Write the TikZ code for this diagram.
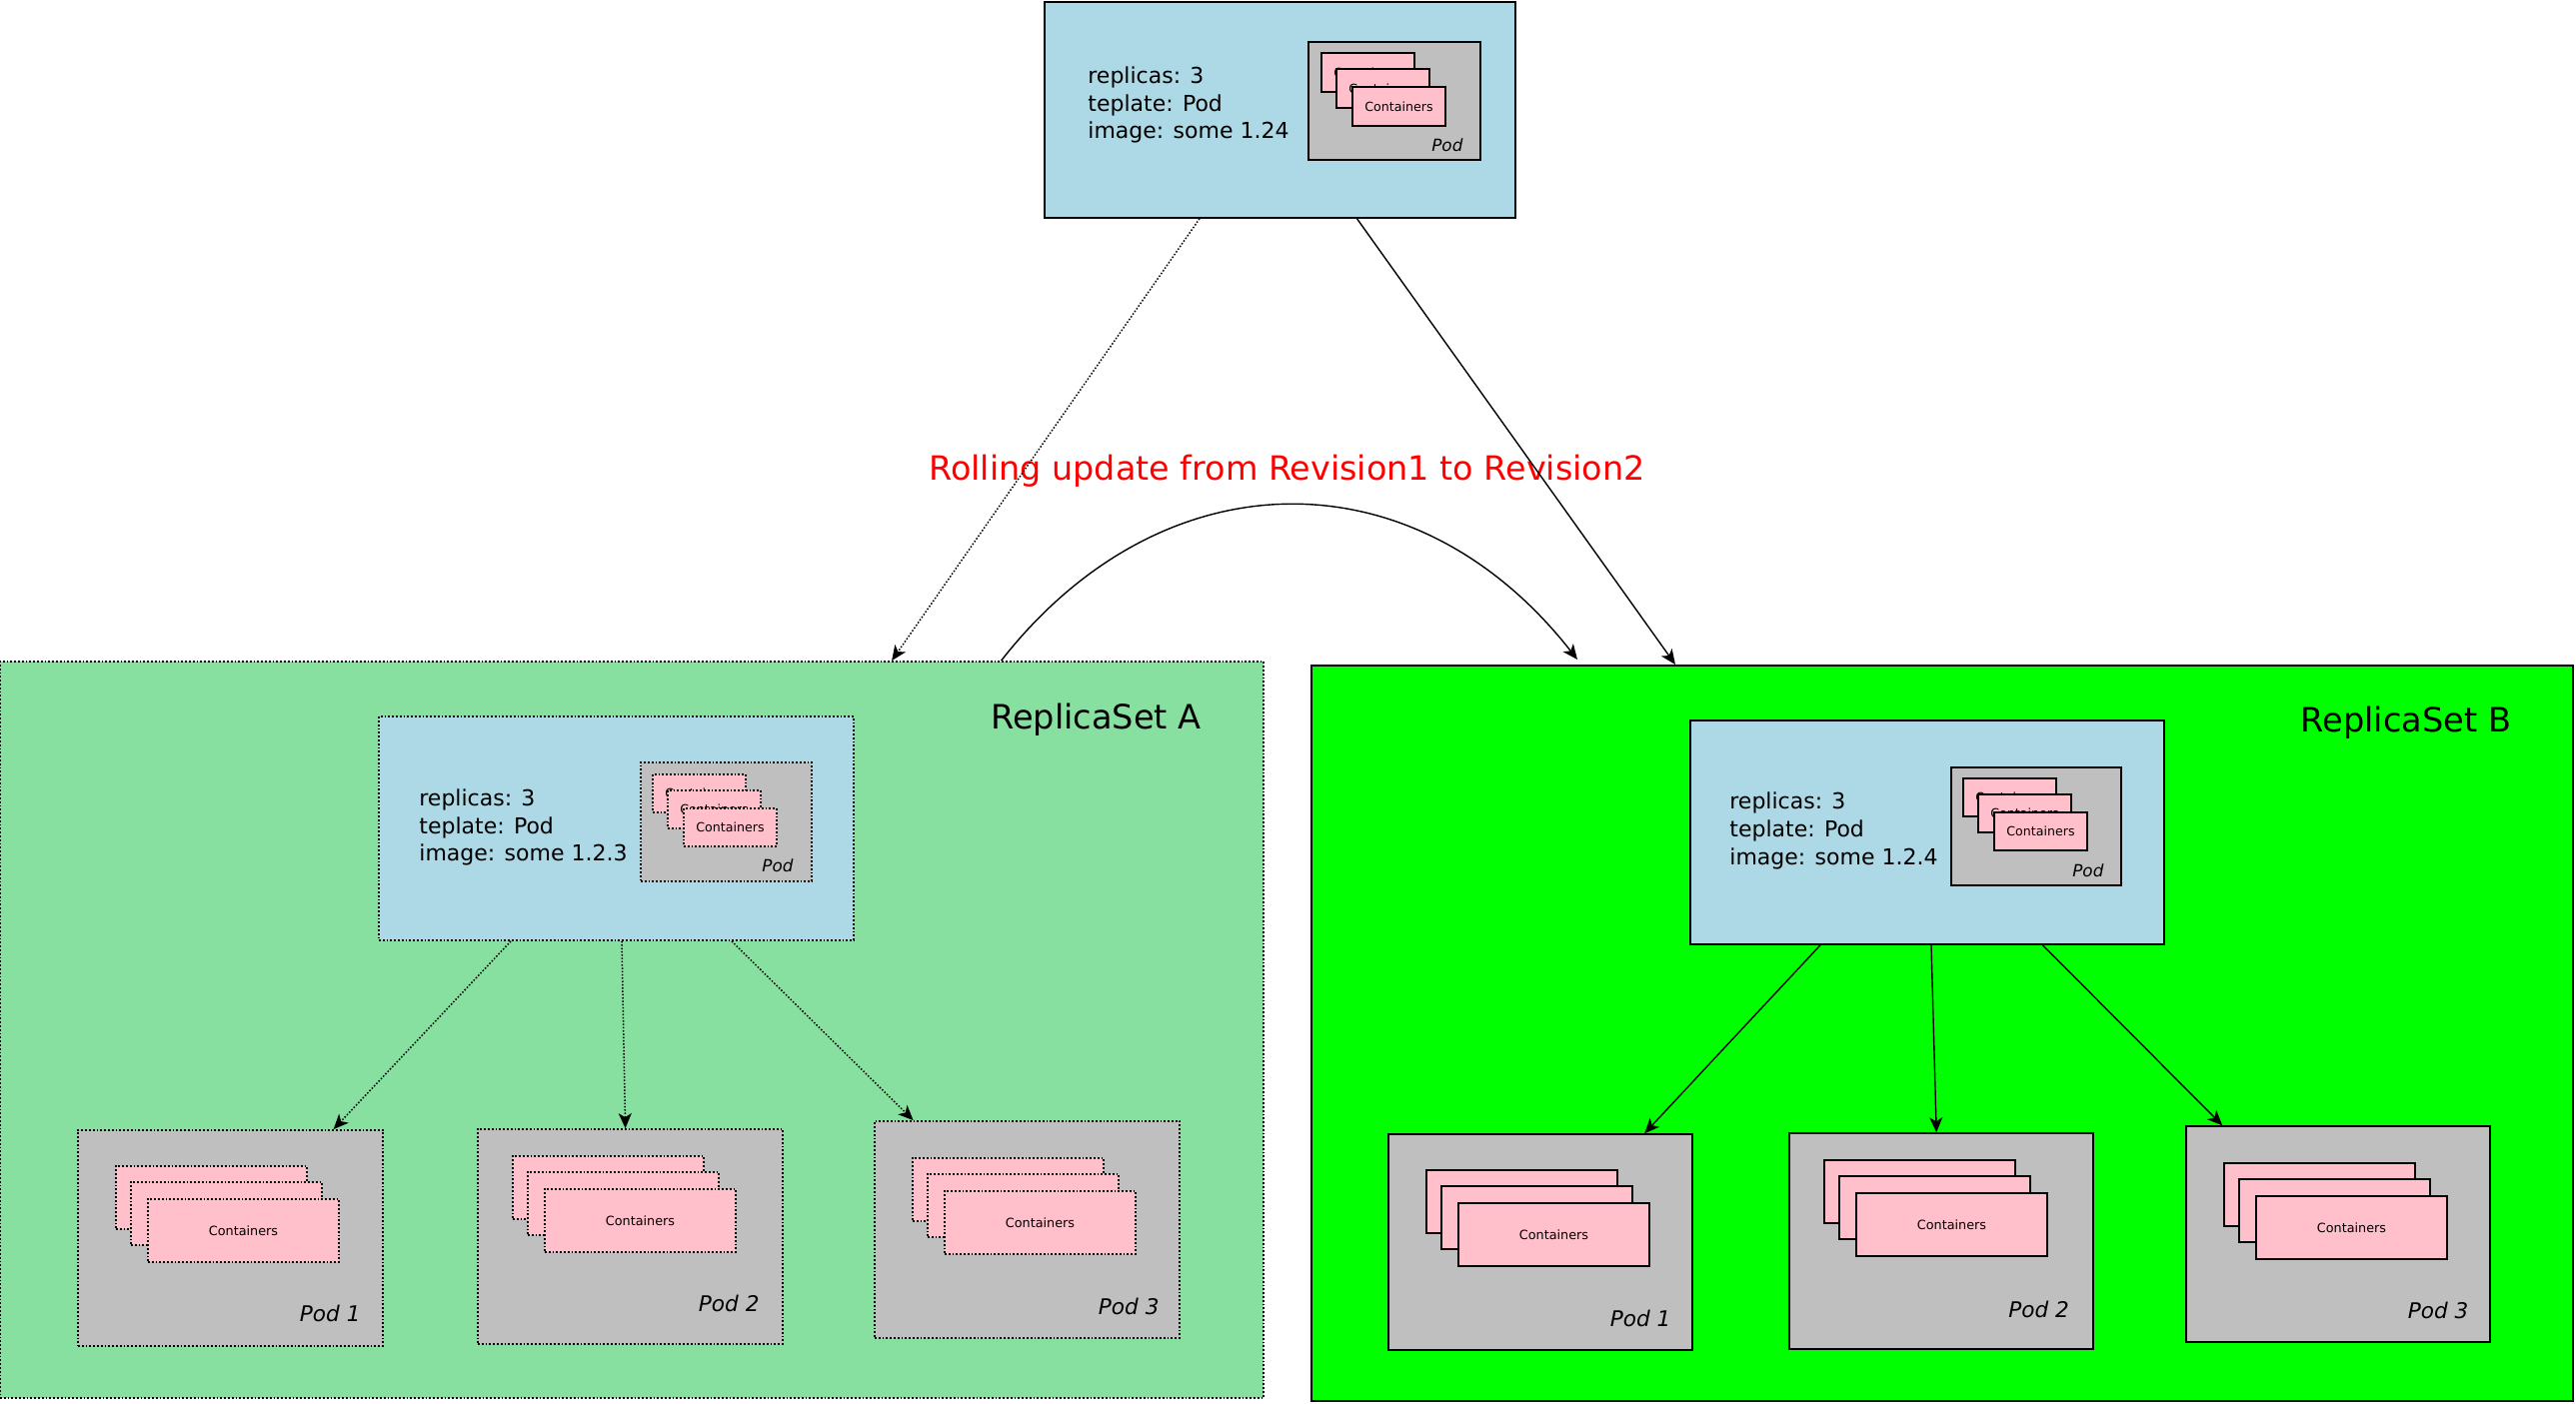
\documentclass[tikz,border=0pt]{standalone}
\usepackage{fontspec}
\setmainfont{DejaVu Sans}[ItalicFont={DejaVu Sans Oblique}]
\usetikzlibrary{fit,arrows.meta}
\definecolor{lblue}{HTML}{ADD8E6}
\definecolor{agreen}{HTML}{88E0A0}
\definecolor{bgreen}{HTML}{00FF00}
\definecolor{pgrey}{HTML}{BFBFBF}
\definecolor{cpink}{HTML}{FFC0CB}
\newcommand\mybox[6]{%
  \path (#3,#4) coordinate (#1-nw) (#5,#6) coordinate (#1-se);
  \node[#2, fit=(#1-nw)(#1-se), inner sep=0pt] (#1) {};}
% small template stack: text in all boxes (partly visible)
\newcommand\cstackS[6]{%
  \mybox{#1a}{#2}{#3}{#4}{#3+#5}{#4+#6}\node[ctexts] at (#1a.center) {Containers};
  \mybox{#1b}{#2}{#3+15}{#4+16}{#3+15+#5}{#4+16+#6}\node[ctexts] at (#1b.center) {Containers};
  \mybox{#1c}{#2}{#3+31}{#4+34}{#3+31+#5}{#4+34+#6}\node[ctexts] at (#1c.center) {Containers};}
% large pod stack: text visible on front box only
\newcommand\cstackL[6]{%
  \mybox{#1a}{#2}{#3}{#4}{#3+#5}{#4+#6}
  \mybox{#1b}{#2}{#3+15}{#4+16}{#3+15+#5}{#4+16+#6}
  \mybox{#1c}{#2}{#3+32}{#4+33}{#3+32+#5}{#4+33+#6}
  \node[ctext] at (#1c.center) {Containers};}
\tikzset{
  solidln/.style={draw=black, line width=0.8pt},
  dotln/.style={draw=black, line width=0.9pt, dash pattern=on 0.9pt off 1pt},
  rsa/.style={fill=agreen, dotln},
  rsb/.style={fill=bgreen, draw=black, line width=1pt},
  tplS/.style={fill=lblue, solidln},
  tplD/.style={fill=lblue, dotln},
  podS/.style={fill=pgrey, solidln},
  podD/.style={fill=pgrey, dotln},
  contS/.style={fill=cpink, solidln},
  contD/.style={fill=cpink, dotln},
  ctext/.style={inner sep=0pt, font=\fontsize{6.4}{7.5}\selectfont},
  ctexts/.style={inner sep=0pt, font=\fontsize{6.3}{7.5}\selectfont},
  spec/.style={inner sep=0pt, anchor=north west, align=left, font=\fontsize{11}{13.8}\selectfont},
  podlbl/.style={inner sep=0pt, anchor=base east, font=\fontsize{10.8}{13}\selectfont\itshape},
  podsmall/.style={inner sep=0pt, anchor=base east, font=\fontsize{8.4}{10}\selectfont\itshape},
  rslbl/.style={inner sep=0pt, anchor=base east, font=\fontsize{16.8}{20}\selectfont},
  arrS/.style={-{Stealth[length=7.5pt,width=6.5pt,inset=2pt]}, line width=0.7pt},
  arrD/.style={-{Stealth[length=7.5pt,width=6.5pt,inset=2pt]}, line width=0.75pt, dash pattern=on 0.75pt off 0.9pt},
}
\begin{document}
\begin{tikzpicture}[x=0.5pt,y=-0.5pt]
\useasboundingbox (0,0) rectangle (2577,1404);
% ---------- top deployment template ----------
\mybox{top}{tplS}{1045}{2}{1516}{218}
\node[spec] (topspec) at (1088,66.3) {replicas: 3\\teplate: Pod\\image: some 1.24};
\mybox{toppod}{podS}{1309}{42}{1481}{160}
\cstackS{topc}{contS}{1322}{53}{93}{39}
\node[podsmall] (toppodl) at ([shift={(-18,-9)}]toppod.south east) {Pod};
% ---------- ReplicaSet A ----------
\mybox{rsA}{rsa}{0}{662}{1264}{1399}
\node[rslbl] (rsAl) at (1202,729) {ReplicaSet A};
\mybox{tA}{tplD}{379}{717}{854}{941}
\node[spec] (tAspec) at (419,789.3) {replicas: 3\\teplate: Pod\\image: some 1.2.3};
\mybox{tApod}{podD}{641}{763}{812}{882}
\cstackS{tAc}{contD}{653}{775}{93}{38}
\node[podsmall] (tApodl) at ([shift={(-19,-10)}]tApod.south east) {Pod};
\mybox{a1}{podD}{78}{1131}{383}{1347}
\cstackL{a1c}{contD}{116}{1167}{191}{63}
\node[podlbl] (a1l) at ([shift={(-23,-25)}]a1.south east) {Pod 1};
\mybox{a2}{podD}{478}{1130}{783}{1345}
\cstackL{a2c}{contD}{513}{1157}{191}{63}
\node[podlbl] (a2l) at ([shift={(-24,-33)}]a2.south east) {Pod 2};
\mybox{a3}{podD}{875}{1122}{1180}{1339}
\cstackL{a3c}{contD}{913}{1159}{191}{63}
\node[podlbl] (a3l) at ([shift={(-21,-24)}]a3.south east) {Pod 3};
% ---------- ReplicaSet B ----------
\mybox{rsB}{rsb}{1312}{666}{2574}{1402}
\node[rslbl] (rsBl) at (2512.5,732.6) {ReplicaSet B};
\mybox{tB}{tplS}{1691}{721}{2165}{945}
\node[spec] (tBspec) at (1730,792.8) {replicas: 3\\teplate: Pod\\image: some 1.2.4};
\mybox{tBpod}{podS}{1952}{768}{2122}{886}
\cstackS{tBc}{contS}{1964}{779}{93}{38}
\node[podsmall] (tBpodl) at ([shift={(-18,-9)}]tBpod.south east) {Pod};
\mybox{b1}{podS}{1389}{1135}{1693}{1351}
\cstackL{b1c}{contS}{1427}{1171}{191}{63}
\node[podlbl] (b1l) at ([shift={(-22,-24)}]b1.south east) {Pod 1};
\mybox{b2}{podS}{1790}{1134}{2094}{1350}
\cstackL{b2c}{contS}{1825}{1161}{191}{63}
\node[podlbl] (b2l) at ([shift={(-24.5,-32)}]b2.south east) {Pod 2};
\mybox{b3}{podS}{2187}{1127}{2491}{1343}
\cstackL{b3c}{contS}{2225}{1164}{191}{63}
\node[podlbl] (b3l) at ([shift={(-22,-24)}]b3.south east) {Pod 3};
% ---------- title ----------
\node[inner sep=0pt, anchor=base, text=red, font=\fontsize{16.7}{20}\selectfont] (title) at (1287.5,480) {Rolling update from Revision1 to Revision2};
% ---------- connectors ----------
\draw[arrD] ([shift={(-80.5,0)}]top.south) -- ([shift={(893,0)}]rsA.north west);
\draw[arrS] ([shift={(77,0)}]top.south) -- ([shift={(365,0)}]rsB.north west);
\draw[arrS] ([shift={(1002.5,0)}]rsA.north west) .. controls +(162,-207) and +(-162,-207) .. ([shift={(267,-5)}]rsB.north west);
\draw[arrD] ([shift={(-105.5,0)}]tA.south) -- ([shift={(256.5,0)}]a1.north west);
\draw[arrD] ([shift={(5.5,0)}]tA.south) -- ([shift={(148.5,0)}]a2.north west);
\draw[arrD] ([shift={(115.5,0)}]tA.south) -- ([shift={(39.5,0)}]a3.north west);
\draw[arrS] ([shift={(-107,0)}]tB.south) -- ([shift={(257,0)}]b1.north west);
\draw[arrS] ([shift={(4,0)}]tB.south) -- ([shift={(148,0)}]b2.north west);
\draw[arrS] ([shift={(115.5,0)}]tB.south) -- ([shift={(37,0)}]b3.north west);
\end{tikzpicture}
\end{document}
